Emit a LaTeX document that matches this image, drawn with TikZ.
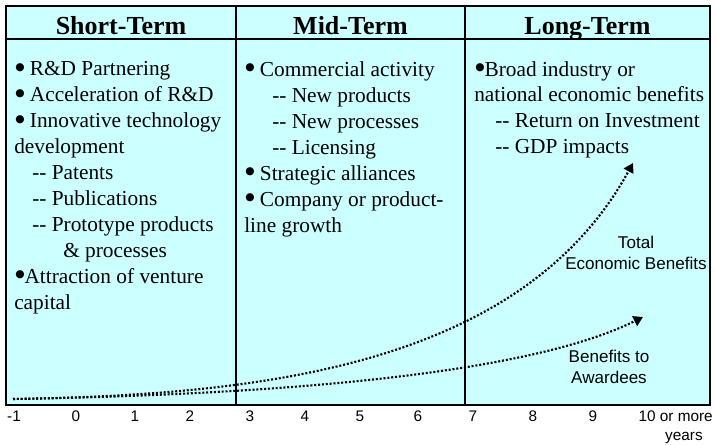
\documentclass[tikz,border=0pt]{standalone}
\usepackage{fontspec}
\setmainfont{Liberation Serif}
\newfontfamily\arialfam{Liberation Sans}
\newfontfamily\dotfam{DejaVu Sans}
\usetikzlibrary{arrows.meta}
\definecolor{panel}{RGB}{204,255,255}
\newcommand{\midbullet}{\raisebox{0.24em}{\dotfam\fontsize{8}{8}\selectfont ●}}
\newcommand{\upbullet}{\raisebox{0.31em}{\dotfam\fontsize{8}{8}\selectfont ●}}
\tikzset{
  head/.style={anchor=base, inner sep=0pt, font=\fontsize{19.5}{23}\selectfont\bfseries},
  body/.style={anchor=base west, inner sep=0pt, font=\fontsize{16}{19.5}\selectfont},
  tick/.style={anchor=base, inner sep=0pt, font=\arialfam\fontsize{11.5}{13}\selectfont},
  curvelabel/.style={align=center, inner sep=0pt, font=\arialfam\fontsize{12.8}{15.5}\selectfont},
  growth/.style={line width=1.6pt, dash pattern=on 1.5pt off 1.4pt, -{Triangle[length=7pt,width=8pt]}}
}
\begin{document}
\begin{tikzpicture}[x=0.75pt,y=0.75pt,yscale=-1,xscale=1]
\useasboundingbox (0,0) rectangle (715,445);

%Shape: Rectangle
\draw [line width=0.8pt, fill=panel] (6,6) rectangle (710,405) ;
%Straight Lines
\draw [line width=0.8pt] (6,39) -- (710,39) ;
%Straight Lines
\draw [line width=0.8pt] (236,6) -- (236,405) ;
%Straight Lines
\draw [line width=0.8pt] (465,6) -- (465,405) ;

% Text Node
\node [head] (short) at (121,35) {Short-Term};
% Text Node
\node [head] (mid) at (350.5,35) {Mid-Term};
% Text Node
\node [head] (long) at (587.5,35) {Long-Term};

% Short-Term items
\node [body] (s1) at (15,76) {\midbullet\ R\&D Partnering};
\node [body] (s2) at (15,102) {\midbullet\ Acceleration of R\&D};
\node [body] (s3) at (15,128) {\midbullet\ Innovative technology};
\node [body] (s4) at (14,154) {development};
\node [body] (s5) at (32,180) {-{}- Patents};
\node [body] (s6) at (32,206) {-{}- Publications};
\node [body] (s7) at (32,232) {-{}- Prototype products};
\node [body] (s8) at (63,258) {\& processes};
\node [body] (s9) at (15,284) {\upbullet Attraction of venture};
\node [body] (s10) at (14,310) {capital};

% Mid-Term items
\node [body] (m1) at (245,77) {\upbullet\ Commercial activity};
\node [body] (m2) at (272,103) {-{}- New products};
\node [body] (m3) at (272,129) {-{}- New processes};
\node [body] (m4) at (272,155) {-{}- Licensing};
\node [body] (m5) at (245,181) {\upbullet\ Strategic alliances};
\node [body] (m6) at (245,207) {\upbullet\ Company or product-};
\node [body] (m7) at (244,233) {line growth};

% Long-Term items
\node [body] (l1) at (475,77) {\upbullet Broad industry or};
\node [body] (l2) at (474,102) {national economic benefits};
\node [body] (l3) at (495,128) {-{}- Return on Investment};
\node [body] (l4) at (495,154) {-{}- GDP impacts};

% Growth curves
\coordinate (origin) at (13,399);
\coordinate (totalEnd) at (633,163);
\coordinate (awardEnd) at (643,317);
\draw [growth] (origin) .. controls (250,395) and (520,370) .. (totalEnd);
\draw [growth] (origin) .. controls (250,395) and (520,378) .. (awardEnd);

% Text Node
\node [curvelabel] (totalLabel) at (636,253) {Total\\Economic Benefits};
% Text Node
\node [curvelabel] (awardLabel) at (609,367) {Benefits to\\Awardees};

% Axis
\foreach \yr/\px in {-1/14,0/76,1/135,2/190,3/250,4/305,5/360,6/418,7/473,8/533,9/593}
  \node [tick] (yr\yr) at (\px,422) {\yr};
\node [tick, anchor=base east] (yr10) at (713,422) {10 or more};
\node [tick, anchor=base east] (years) at (703,441) {years};

\end{tikzpicture}
\end{document}
